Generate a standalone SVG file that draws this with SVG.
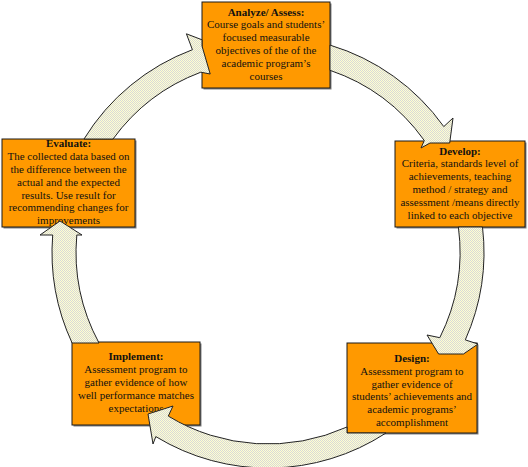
<svg xmlns="http://www.w3.org/2000/svg" width="528" height="467" viewBox="0 0 528 467">
<defs>
<pattern id="dither" width="2" height="2" patternUnits="userSpaceOnUse">
<rect width="2" height="2" fill="#FFFFD0"/>
<rect width="1" height="1" fill="#D8D8D8"/>
<rect x="1" y="1" width="1" height="1" fill="#D8D8D8"/>
</pattern>
</defs>
<style>
.shadow{fill:#808080}
.box{fill:#FF9900;stroke:#1a1a1a;stroke-width:1}
.t{font-family:"Liberation Serif","Times New Roman",serif;font-size:11px;fill:#111;text-anchor:middle}
.b{font-weight:bold}
.arrow{fill:url(#dither);stroke:#222;stroke-width:1;stroke-linejoin:miter}
</style>
<rect width="528" height="467" fill="#FFFFFF"/>
<g id="node-analyze">
<rect class="shadow" x="203.5" y="3.5" width="128" height="86"/>
<rect class="box" x="202" y="2" width="128" height="86"/>
<text class="t b" x="266" y="15.5">Analyze/ Assess:</text>
<text class="t" x="266" y="28.3">Course goals and students’</text>
<text class="t" x="266" y="41.1">focused measurable</text>
<text class="t" x="266" y="53.9">objectives of the of the</text>
<text class="t" x="266" y="66.7">academic program’s</text>
<text class="t" x="266" y="79.5">courses</text>
</g>
<g id="node-develop">
<rect class="shadow" x="396.5" y="142.5" width="130" height="86"/>
<rect class="box" x="395" y="141" width="130" height="86"/>
<text class="t b" x="460" y="154.5">Develop:</text>
<text class="t" x="460" y="167.3">Criteria, standards level of</text>
<text class="t" x="460" y="180.1">achievements, teaching</text>
<text class="t" x="460" y="192.9">method / strategy and</text>
<text class="t" x="460" y="205.7">assessment /means directly</text>
<text class="t" x="460" y="218.5">linked to each objective</text>
</g>
<g id="node-design">
<rect class="shadow" x="348.5" y="344.5" width="130" height="90"/>
<rect class="box" x="347" y="343" width="130" height="90"/>
<text class="t b" x="412" y="361.7">Design:</text>
<text class="t" x="412" y="374.6">Assessment program to</text>
<text class="t" x="412" y="387.5">gather evidence of</text>
<text class="t" x="412" y="400.4">students’ achievements and</text>
<text class="t" x="412" y="413.3">academic programs’</text>
<text class="t" x="412" y="426.2">accomplishment</text>
</g>
<g id="node-implement">
<rect class="shadow" x="73.5" y="343.5" width="128" height="83"/>
<rect class="box" x="72" y="342" width="128" height="83"/>
<text class="t b" x="136" y="360">Implement:</text>
<text class="t" x="136" y="373">Assessment program to</text>
<text class="t" x="136" y="386">gather evidence of how</text>
<text class="t" x="136" y="399">well performance matches</text>
<text class="t" x="136" y="412">expectations</text>
</g>
<g id="node-evaluate">
<rect class="shadow" x="3.5" y="140.5" width="133" height="88"/>
<rect class="box" x="2" y="139" width="133" height="88"/>
<text class="t b" x="68.5" y="147.3">Evaluate:</text>
<text class="t" x="68.5" y="160.1">The collected data based on</text>
<text class="t" x="68.5" y="172.9">the difference between the</text>
<text class="t" x="68.5" y="185.7">actual and the expected</text>
<text class="t" x="68.5" y="198.5">results. Use result for</text>
<text class="t" x="68.5" y="211.3">recommending changes for</text>
<text class="t" x="68.5" y="224.1">improvements</text>
</g>
<g id="connectors">
<path id="arrow-evaluate-analyze" class="arrow" d="M84,139 A216,216 0 0 1 192.4,49.7 L186.4,33.8 L202,39.8 L202,46 L210.2,74 L200.8,72.2 A192,192 0 0 0 113,139 Z"/>
<path id="arrow-analyze-develop" class="arrow" d="M330,45.1 A216,216 0 0 1 443.8,126.6 L453,118 L449.7,143 L430,143 L421,148 L424.3,140.5 A192,192 0 0 0 330,70.3 Z"/>
<path id="arrow-develop-design" class="arrow" d="M482.5,227 A216,216 0 0 1 465.3,339.9 L478,344 L463.5,354 L438.6,354 L427,335 L439.8,337.7 A192,192 0 0 0 458.4,227 Z"/>
<path id="arrow-design-implement" class="arrow" d="M386,433 A216,216 0 0 1 155.8,436.6 L153,444 L148,414 L173,406 L168.3,416.1 A192,192 0 0 0 347,427 L347,433 Z"/>
<path id="arrow-implement-evaluate" class="arrow" d="M72.1,343 A216,216 0 0 1 52.7,235 L40,235 L60,221 L82,235 L76.8,235 A192,192 0 0 0 99,343 Z"/>
</g>
</svg>
